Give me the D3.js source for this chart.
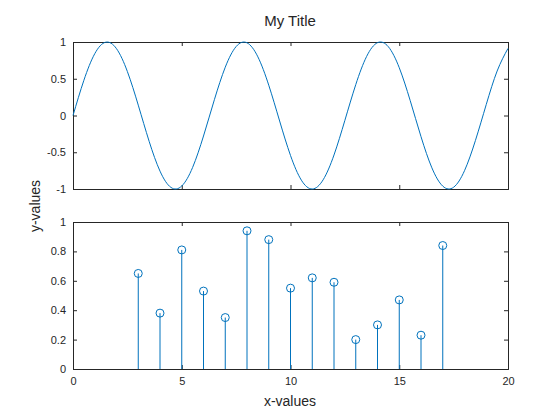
<!DOCTYPE html><html><head><script src="https://cdn.jsdelivr.net/npm/d3@7"></script>
<style>body{margin:0;background:#fff}text{font-family:Arial,"Liberation Sans",sans-serif}</style></head><body>
<svg id="c" width="560" height="420"></svg>
<script>
const sineX=d3.range(0,20.01,0.5);
const sineY=[0,0.479,0.841,0.997,0.909,0.598,0.141,-0.351,-0.757,-0.978,-0.959,-0.706,-0.279,0.215,0.657,0.938,0.989,0.798,0.412,-0.075,-0.544,-0.880,-1.000,-0.875,-0.537,-0.066,0.420,0.804,0.991,0.935,0.650,0.206,-0.288,-0.712,-0.961,-0.976,-0.751,-0.342,0.150,0.605,0.913];
const stemX=[3,4,5,6,7,8,9,10,11,12,13,14,15,16,17];
const stemY=[0.65,0.38,0.81,0.53,0.35,0.94,0.88,0.55,0.62,0.59,0.20,0.30,0.47,0.23,0.84];
const topTicks=[-1,-0.5,0,0.5,1], botTicks=[0,0.2,0.4,0.6,0.8,1], xTicks=[0,5,10,15,20];
const col="#0072BD";
const svg=d3.select("#c");
const x=d3.scaleLinear().domain([0,20]).range([73,508]);
const y1=d3.scaleLinear().domain([-1,1]).range([189,42]);
const y2=d3.scaleLinear().domain([0,1]).range([369,222]);
function box(y,ticks,showX){
  const g=svg.append("g");
  g.append("g").attr("transform","translate(0,"+y.range()[0]+")").call(d3.axisBottom(x).tickValues(xTicks).tickSize(-4).tickFormat(showX?d3.format("d"):""));
  g.append("g").attr("transform","translate(0,"+y.range()[1]+")").call(d3.axisTop(x).tickValues(xTicks).tickSize(-4).tickFormat(""));
  g.append("g").attr("transform","translate(73,0)").call(d3.axisLeft(y).tickValues(ticks).tickSize(-4).tickFormat(d=>d));
  g.append("g").attr("transform","translate(508,0)").call(d3.axisRight(y).tickValues(ticks).tickSize(-4).tickFormat(""));
  g.selectAll(".domain").attr("stroke","#262626");
  g.selectAll(".tick line").attr("stroke","#262626");
  g.selectAll(".tick text").attr("fill","#262626").attr("font-size",11).attr("font-family","Arial,'Liberation Sans',sans-serif");
  g.selectAll(".tick text").each(function(){const t=d3.select(this);if(t.attr("dy")&&t.attr("dy").includes("0.71"))t.attr("y",8);else t.attr("x",-7);});
}
box(y1,topTicks,false);box(y2,botTicks,true);
svg.append("path").datum(sineX.map((v,i)=>[v,sineY[i]])).attr("fill","none").attr("stroke",col).attr("stroke-width",1)
 .attr("d",d3.line().x(d=>x(d[0])).y(d=>y1(d[1])).curve(d3.curveNatural));
stemX.forEach((v,i)=>{
  svg.append("line").attr("x1",x(v)).attr("x2",x(v)).attr("y1",y2(0)).attr("y2",y2(stemY[i])).attr("stroke",col);
  svg.append("circle").attr("cx",x(v)).attr("cy",y2(stemY[i])).attr("r",4).attr("fill","none").attr("stroke",col);
});
svg.append("text").attr("x",290).attr("y",26).attr("text-anchor","middle").attr("font-size",15).attr("fill","#262626").text("My Title");
svg.append("text").attr("x",290).attr("y",406).attr("text-anchor","middle").attr("font-size",14).attr("fill","#262626").text("x-values");
svg.append("text").attr("transform","translate(40,206) rotate(-90)").attr("text-anchor","middle").attr("font-size",14).attr("fill","#262626").text("y-values");
</script></body></html>
